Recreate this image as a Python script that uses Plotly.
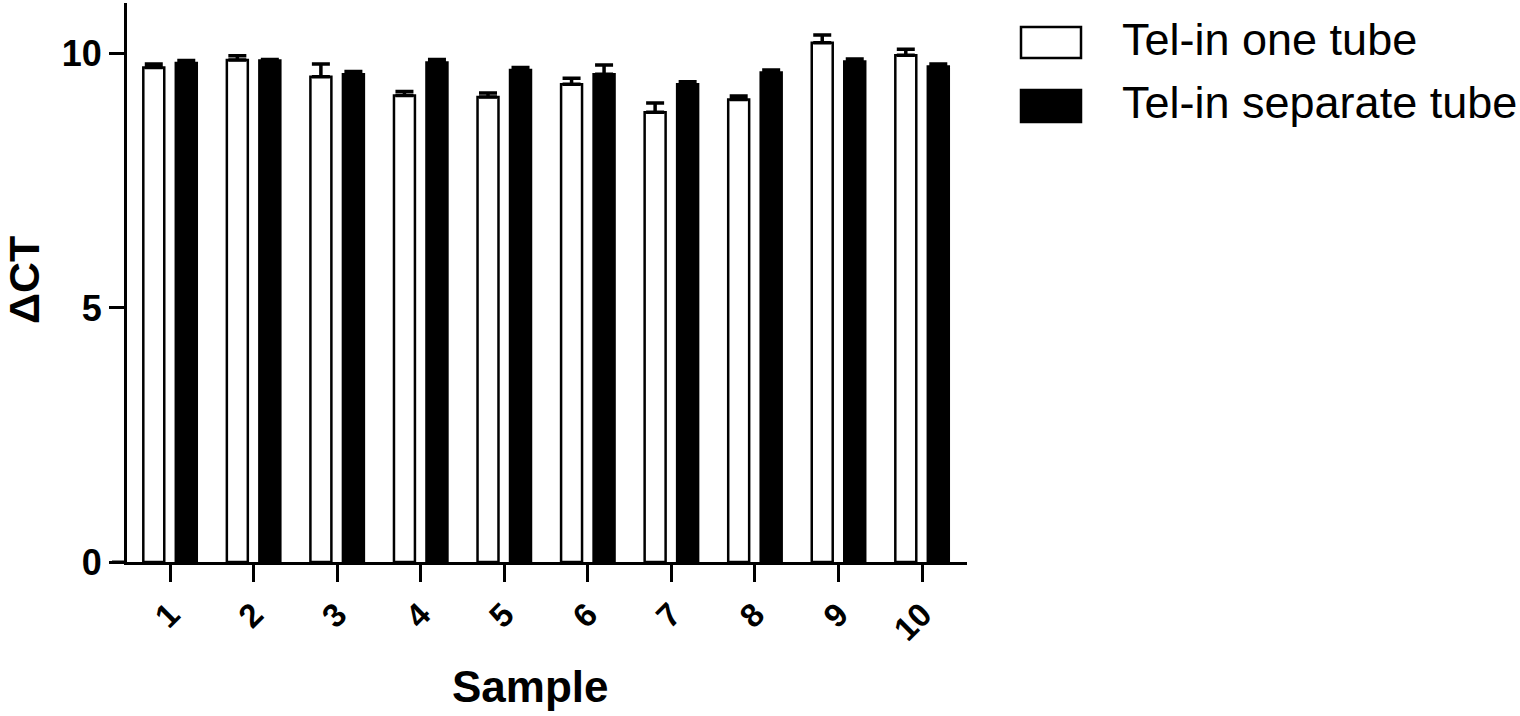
import plotly.graph_objects as go

samples = ["1", "2", "3", "4", "5", "6", "7", "8", "9", "10"]
one_tube = [9.73, 9.88, 9.55, 9.18, 9.15, 9.40, 8.85, 9.10, 10.22, 9.97]
one_tube_err = [0.07, 0.08, 0.25, 0.08, 0.08, 0.12, 0.18, 0.07, 0.15, 0.12]
sep_tube = [9.82, 9.87, 9.60, 9.83, 9.68, 9.60, 9.40, 9.63, 9.85, 9.75]
sep_tube_err = [0.05, 0.02, 0.05, 0.06, 0.05, 0.18, 0.05, 0.05, 0.05, 0.05]
series_names = ["Tel-in one tube", "Tel-in separate tube"]
y_ticks = [0, 5, 10]

FONT = "Liberation Sans, Arial, sans-serif"

fig = go.Figure()
fig.add_trace(go.Bar(
    x=samples, y=one_tube, name=series_names[0],
    marker=dict(color="white", line=dict(color="black", width=2.5)),
    error_y=dict(type="data", symmetric=False, array=one_tube_err,
                 arrayminus=[0] * len(one_tube_err),
                 color="black", thickness=3.5, width=9),
    showlegend=False,
))
fig.add_trace(go.Bar(
    x=samples, y=sep_tube, name=series_names[1],
    marker=dict(color="black", line=dict(color="black", width=2.5)),
    error_y=dict(type="data", symmetric=False, array=sep_tube_err,
                 arrayminus=[0] * len(sep_tube_err),
                 color="black", thickness=3.5, width=9),
    showlegend=False,
))

W, H = 1520, 716
L, R, T, B = 127, 553, 3, 154
pw, ph = W - L - R, H - T - B


def px_x(p):
    return (p - L) / pw


def px_y(p):
    return (H - B - p) / ph


shapes = [
    # x-axis line extension to the left of the y axis
    dict(type="line", xref="paper", yref="y", x0=px_x(112), x1=0, y0=0, y1=0,
         line=dict(color="black", width=3)),
    # legend boxes
    dict(type="rect", xref="paper", yref="paper",
         x0=px_x(1021), x1=px_x(1081), y0=px_y(58), y1=px_y(27),
         fillcolor="white", line=dict(color="black", width=2.5)),
    dict(type="rect", xref="paper", yref="paper",
         x0=px_x(1021), x1=px_x(1081), y0=px_y(122), y1=px_y(90),
         fillcolor="black", line=dict(color="black", width=2.5)),
]

annotations = [
    dict(text=series_names[0], xref="paper", yref="paper", x=px_x(1120), y=px_y(39.5),
         xanchor="left", yanchor="middle", showarrow=False,
         font=dict(family=FONT, size=45, color="black")),
    dict(text=series_names[1], xref="paper", yref="paper", x=px_x(1120), y=px_y(102.5),
         xanchor="left", yanchor="middle", showarrow=False,
         font=dict(family=FONT, size=45, color="black")),
    dict(text="Sample", xref="paper", yref="paper", x=px_x(530), y=px_y(686),
         xanchor="center", yanchor="middle", showarrow=False,
         font=dict(family=FONT, size=44, color="black", weight="bold")),
    dict(text="ΔCT", xref="paper", yref="paper", x=px_x(24), y=px_y(280),
         xanchor="center", yanchor="middle", showarrow=False, textangle=-90,
         font=dict(family=FONT, size=43, color="black", weight="bold")),
]

fig.update_layout(
    width=W, height=H,
    margin=dict(l=L, r=R, t=T, b=B),
    paper_bgcolor="white", plot_bgcolor="white",
    barmode="group", bargap=0.222, bargroupgap=0.355,
    font=dict(family=FONT, color="black"),
    shapes=shapes, annotations=annotations,
    xaxis=dict(
        type="category", range=[-0.515, 9.538],
        showline=True, linecolor="black", linewidth=3,
        ticks="outside", ticklen=17, tickwidth=3, tickcolor="black",
        tickangle=-45, showgrid=False, zeroline=False,
        tickfont=dict(family=FONT, size=33, color="black", weight="bold"),
    ),
    yaxis=dict(
        range=[0, 11], tickvals=y_ticks,
        showline=True, linecolor="black", linewidth=3,
        ticks="outside", ticklen=15, tickwidth=3, tickcolor="black",
        showgrid=False, zeroline=False,
        tickfont=dict(family=FONT, size=36, color="black", weight="bold"),
    ),
)

fig.write_html("out.html", config={"displayModeBar": False},
               post_script="document.body.style.margin='0px';")
